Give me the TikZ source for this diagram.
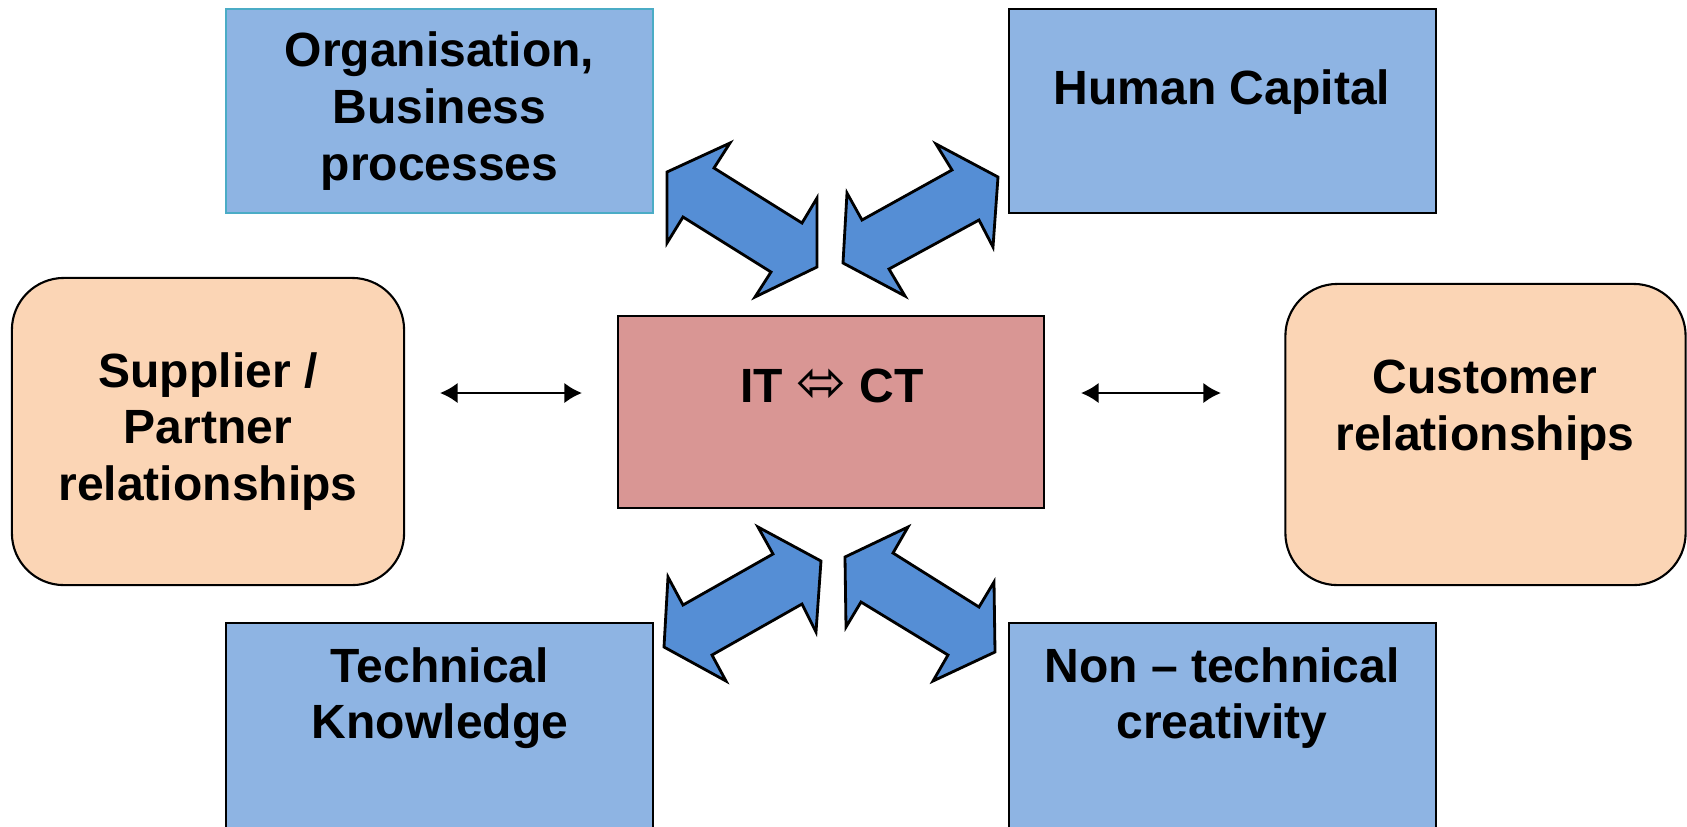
\documentclass[tikz,border=0pt]{standalone}
\usepackage{fontspec}
\setmainfont{Liberation Sans}
\newfontfamily\arrowfont{DejaVu Sans}
\usepackage{tikz}
\usetikzlibrary{positioning, arrows.meta}

\definecolor{boxblue}{RGB}{142,180,227}
\definecolor{peach}{RGB}{251,213,181}
\definecolor{rose}{RGB}{217,150,148}
\definecolor{arrowblue}{RGB}{85,142,213}
\definecolor{tealline}{RGB}{75,172,198}

\begin{document}
\begin{tikzpicture}[
  x=0.01cm, y=-0.01cm,
  every node/.style={font=\fontsize{13.66}{16.1}\selectfont\bfseries, align=center},
  bluebox/.style={draw=black, line width=0.6pt, fill=boxblue, inner sep=0pt,
    minimum width=4.27cm, minimum height=2.04cm},
  peachbox/.style={draw=black, line width=0.6pt, fill=peach, inner sep=0pt,
    rounded corners=0.52cm},
  bigarrow/.style={fill=arrowblue, draw=black, line width=0.8pt, line join=miter},
  linkarrow/.style={line width=0.7pt, {Latex[length=5pt,width=5.8pt]}-{Latex[length=5pt,width=5.8pt]}},
]
  \useasboundingbox (0,0) rectangle (1687,826);
  \clip (0,0) rectangle (1687,826);

  % top row
  \node[bluebox, draw=tealline] (org) at (439.5,111) {Organisation,\\Business\\processes};
  \node[bluebox] (hc) at (1222.5,111) {};
  \node[anchor=base] (hctext) at (1222,104) {Human Capital};

  % middle row
  \node[peachbox, minimum width=3.92cm, minimum height=3.07cm] (supplier) at (208,431.5)
    {Supplier /\\Partner\\relationships};
  \node[draw=black, line width=0.6pt, fill=rose, minimum width=4.26cm, minimum height=1.92cm]
    (itct) at (831,412) {};
  \node[anchor=base] (itcttext) at (832,402) {IT {\arrowfont\fontsize{17}{17}\selectfont\mdseries ⬄} CT};
  \node[peachbox, minimum width=4.0cm, minimum height=3.01cm] (customer) at (1485.5,434.5) {};
  \node (custtext) at (1485,410) {Customer\\relationships};

  % bottom row (runs off the page)
  \node[bluebox, minimum height=2.3cm] (tech) at (439.5,738) {};
  \node (techtext) at (440,698) {Technical\\Knowledge};
  \node[bluebox, minimum height=2.3cm] (nontech) at (1222.5,738) {};
  \node (nontechtext) at (1222,698) {Non -- technical\\creativity};

  % thin links to the side boxes
  \coordinate (supR) at (440,393);
  \coordinate (itL) at (582,393);
  \coordinate (itR) at (1081,393);
  \coordinate (custL) at (1221,393);
  \draw[linkarrow] (supR) -- (itL);
  \draw[linkarrow] (itR) -- (custL);

  % block arrows round the centre box
  \draw[bigarrow] (667,172) -- (730,143) -- (714,168) -- (802,223) -- (817,198)
    -- (817,267) -- (755,297) -- (771,272) -- (683,217) -- (667,243) -- cycle;
  \draw[bigarrow] (847,193) -- (862,220) -- (952,170) -- (936,144) -- (998,177)
    -- (993,247) -- (979,220) -- (889,269) -- (905,296) -- (843,263) -- cycle;
  \draw[bigarrow] (668,577) -- (683,605) -- (773,554) -- (758,527) -- (821,561)
    -- (816,632) -- (802,604) -- (712,655) -- (726,681) -- (664,647) -- cycle;
  \draw[bigarrow] (845,557) -- (908,527) -- (893,553) -- (979,607) -- (994,582)
    -- (995,652) -- (933,681) -- (948,655) -- (861,602) -- (846,627) -- cycle;
\end{tikzpicture}
\end{document}
